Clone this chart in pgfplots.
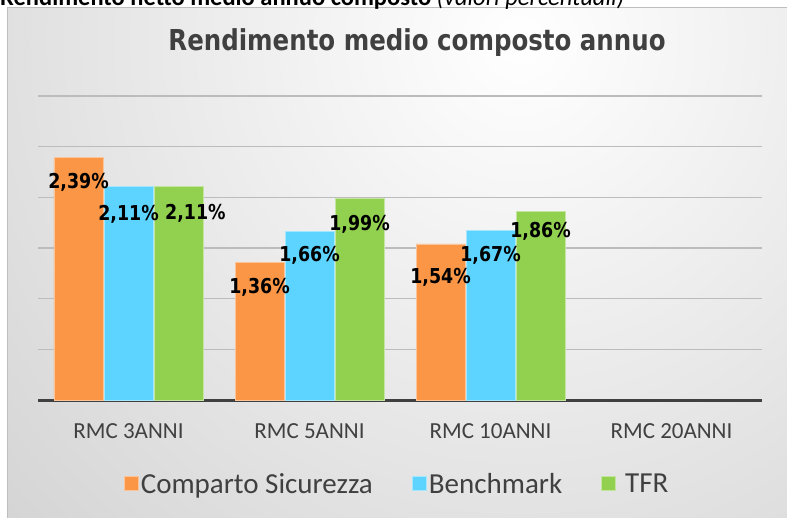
\documentclass[border=0pt]{standalone}
\usepackage{pgfplots}
\pgfplotsset{compat=1.18}
\usepackage{fontspec}
\setmainfont{Carlito}
\newfontfamily\lblfont[FakeStretch=0.85]{DejaVu Sans}
\definecolor{corange}{RGB}{250,150,70}
\definecolor{cblue}{RGB}{92,212,255}
\definecolor{cgreen}{RGB}{146,208,80}
\definecolor{textgray}{RGB}{64,64,64}
\definecolor{gridgray}{RGB}{188,188,188}
\definecolor{bgout}{RGB}{196,196,196}
\definecolor{framegray}{RGB}{190,190,190}
\begin{document}
\begin{tikzpicture}
\useasboundingbox (-38bp,-118bp) rectangle (749bp,400bp);
\clip (-38bp,-118bp) rectangle (749bp,400bp);
\fill[white] (-38bp,-118bp) rectangle (749bp,400bp);
\begin{scope}
\clip (-30bp,-130bp) rectangle (800bp,392bp);
\shade[inner color=white, outer color=bgout] (482bp,360bp) circle (980bp);
\end{scope}
\draw[framegray, line width=1bp] (-30bp,-130bp) -- (-30bp,392bp) -- (800bp,392bp);
\node[anchor=base west, font=\fontsize{24.5bp}{29bp}\selectfont, inner sep=0pt] at (-38bp,394bp) {\textbf{Rendimento netto medio annuo composto} \textit{(valori percentuali)}};
\begin{axis}[
  at={(0,0)}, anchor=south west,
  scale only axis, width=724bp, height=304bp,
  xmin=-0.5, xmax=3.5, ymin=0, ymax=3,
  enlargelimits=false,
  ybar=1bp, bar width=49bp,
  axis x line*=bottom, axis y line*=left,
  x axis line style={draw=textgray, line width=3bp, -},
  y axis line style={draw=none},
  xtick={0,1,2,3},
  xticklabels={RMC 3ANNI, RMC 5ANNI, RMC 10ANNI, RMC 20ANNI},
  major tick length=0pt,
  xticklabel style={font=\fontsize{23bp}{27bp}\selectfont, text=textgray, anchor=center, yshift=-31bp},
  ytick={0.5,1,1.5,2,2.5,3},
  yticklabels={},
  ymajorgrids,
  major grid style={draw=gridgray, line width=1.5bp},
  /pgf/number format/assume math mode=true,
  visualization depends on={\thisrow{off}\as\myoff},
  visualization depends on={\thisrow{xo}\as\myxo},
  point meta=y,
  nodes near coords={\pgfmathprintnumber[fixed,fixed zerofill,precision=2,use comma]{\pgfplotspointmeta}\%},
  every node near coord/.append style={font=\lblfont\bfseries\fontsize{20.5bp}{24bp}\selectfont, text=black, anchor=center, yshift=-\myoff pt, xshift=\myxo pt, inner sep=0pt},
  title={Rendimento medio composto annuo},
  title style={at={(axis description cs:0.5235,1.157)}, anchor=center, font=\lblfont\bfseries\fontsize{28.8bp}{34bp}\selectfont, text=textgray},
  legend style={draw=none, fill=none, at={(axis description cs:0.496,-0.276)}, anchor=center, legend columns=3, font=\fontsize{29bp}{35bp}\selectfont, text=textgray, /tikz/every even column/.append style={column sep=37bp}, nodes={inner xsep=2bp}},
  legend image code/.code={\draw[#1, line width=1bp] (0bp,-7bp) rectangle (14bp,7bp);},
]
\addplot[fill=corange, draw=corange!55!white, line width=0.75bp] table {
x y off xo
0 2.39 25 0
1 1.36 25 0
2 1.54 34 0
};
\addplot[fill=cblue, draw=cblue!55!white, line width=0.75bp] table {
x y off xo
0 2.11 28 0
1 1.66 24 0
2 1.67 25 0
};
\addplot[fill=cgreen, draw=cgreen!55!white, line width=0.75bp] table {
x y off xo
0 2.11 27 17
1 1.99 26 0
2 1.86 20 0
};
\legend{Comparto Sicurezza, Benchmark, \hspace{7bp}TFR}
\end{axis}
\end{tikzpicture}
\end{document}
